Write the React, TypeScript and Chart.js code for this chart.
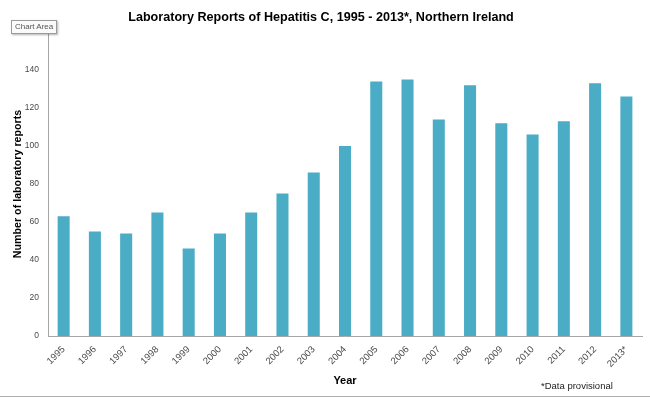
import React, { useEffect, useRef } from "react";
import { Chart, registerables } from "chart.js";

Chart.register(...registerables);

const years = ["1995", "1996", "1997", "1998", "1999", "2000", "2001", "2002", "2003", "2004", "2005", "2006", "2007", "2008", "2009", "2010", "2011", "2012", "2013*"];
const reports = [63, 55, 54, 65, 46, 54, 65, 75, 86, 100, 134, 135, 114, 132, 112, 106, 113, 133, 126];
const titleText = "Laboratory Reports of Hepatitis C, 1995 - 2013*, Northern Ireland";
const yTitle = "Number of laboratory reports";
const xTitle = "Year";
const footnote = "*Data provisional";

export default function App() {
  const ref = useRef<HTMLCanvasElement | null>(null);
  useEffect(() => {
    if (!ref.current) return;
    const chart = new Chart(ref.current, {
      type: "bar",
      data: {
        labels: years,
        datasets: [
          {
            data: reports,
            backgroundColor: "#4BACC6",
            barPercentage: 0.77,
            categoryPercentage: 0.5,
          },
        ],
      },
      options: {
        responsive: false,
        animation: false,
        layout: { padding: { left: 0, right: 8, top: 0, bottom: 0 } },
        plugins: {
          legend: { display: false },
          tooltip: { enabled: false },
          title: {
            display: true,
            text: titleText,
            color: "#000",
            font: { family: "Liberation Sans", size: 12.6, weight: "bold" },
            padding: { top: 10, bottom: 6.9 },
          },
        },
        scales: {
          x: {
            grid: { display: false, drawTicks: false },
            border: { color: "#a6a6a6", width: 1 },
            ticks: {
              color: "#4a4a4a",
              font: { family: "Liberation Sans", size: 9.5 },
              minRotation: 45,
              maxRotation: 45,
              padding: 8,
              autoSkip: false,
            },
            title: {
              display: true,
              text: xTitle,
              color: "#000",
              font: { family: "Liberation Sans", size: 11, weight: "bold" },
              padding: { top: 0, bottom: 10 },
            },
            afterFit: (s: any) => {
              s.height = 62;
            },
          },
          y: {
            min: 0,
            max: 160,
            grid: { display: false, drawTicks: false },
            border: { color: "#a6a6a6", width: 1 },
            ticks: {
              stepSize: 20,
              color: "#4a4a4a",
              font: { family: "Liberation Sans", size: 8.5 },
              padding: 9,
            },
            title: {
              display: true,
              text: yTitle,
              color: "#000",
              font: { family: "Liberation Sans", size: 10.7, weight: "bold" },
              padding: { top: 12, bottom: 0 },
            },
            afterFit: (s: any) => {
              s.width = 48;
            },
          },
        },
      },
    });
    return () => chart.destroy();
  }, []);

  return (
    <div style={{ position: "fixed", left: 0, top: 0, width: 650, height: 398, background: "#fff", overflow: "hidden" }}>
      <canvas ref={ref} width={650} height={398} style={{ position: "absolute", left: 0, top: 0 }} />
      <div
        style={{
          position: "absolute",
          left: 11,
          top: 20,
          padding: "1px 3px",
          border: "1px solid #9a9a9a",
          background: "#fafafa",
          boxShadow: "1px 1px 2px rgba(0,0,0,0.3)",
          fontFamily: "Liberation Sans, sans-serif",
          fontSize: 8,
          color: "#555",
          lineHeight: "10px",
        }}
      >
        Chart Area
      </div>
      <div
        style={{
          position: "absolute",
          left: 541,
          top: 380,
          fontFamily: "Liberation Sans, sans-serif",
          fontSize: 9.5,
          color: "#222",
        }}
      >
        {footnote}
      </div>
      <div style={{ position: "absolute", left: 0, top: 396, width: 650, height: 1, background: "#b0b0b0" }} />
    </div>
  );
}
